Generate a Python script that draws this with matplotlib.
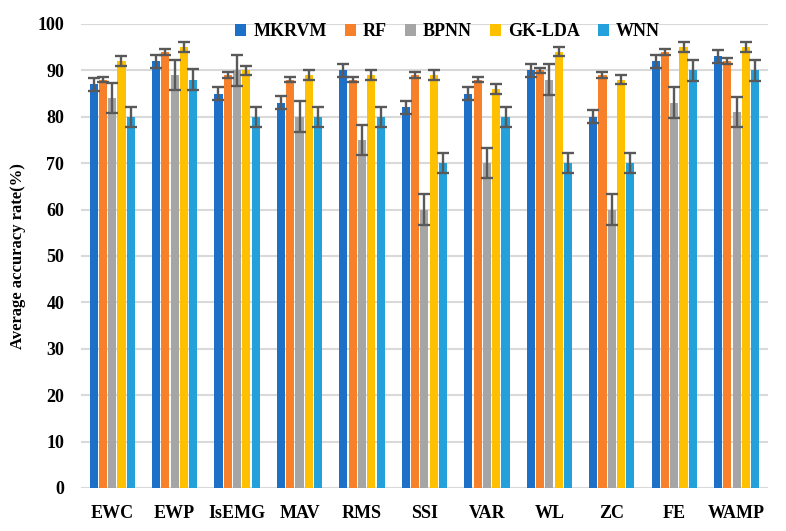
import matplotlib.pyplot as plt
import numpy as np

features = ["EWC", "EWP", "IsEMG", "MAV", "RMS", "SSI", "VAR", "WL", "ZC", "FE", "WAMP"]
methods = ["MKRVM", "RF", "BPNN", "GK-LDA", "WNN"]

mkrvm = [87, 92, 85, 83, 90, 82, 85, 90, 80, 92, 93]
rf = [88, 94, 89, 88, 88, 89, 88, 90, 89, 94, 92]
bpnn = [84, 89, 90, 80, 75, 60, 70, 88, 60, 83, 81]
gklda = [92, 95, 90, 89, 89, 89, 86, 94, 88, 95, 95]
wnn = [80, 88, 80, 80, 80, 70, 80, 70, 70, 90, 90]

# error bar half-widths (one per series, as in the original)
errs = [1.4, 0.6, 3.3, 1.0, 2.2]
colors = ["#1c70c8", "#f7802a", "#a5a5a5", "#ffc000", "#24a0da"]

plt.rcParams['font.family'] = ['Liberation Serif', 'DejaVu Serif']
plt.rcParams['font.weight'] = 'bold'

fig = plt.figure(figsize=(7.86, 5.31), dpi=100)
ax = fig.add_axes([0.103, 0.081, 0.874, 0.874])

x = np.arange(len(features))
pitch = 0.149
width = 0.13
for i, (vals, name) in enumerate(zip([mkrvm, rf, bpnn, gklda, wnn], methods)):
    off = (i - 2) * pitch
    ax.bar(x + off, vals, width, color=colors[i], label=name, zorder=2,
           yerr=errs[i], error_kw=dict(ecolor="#595959", elinewidth=1.7,
                                       capsize=4.5, capthick=1.7, zorder=3))

ax.set_xlim(-0.5, len(features) - 0.5)
ax.set_ylim(0, 100)
ax.set_yticks(range(0, 101, 10))
ax.set_xticks(x)
ax.set_xticklabels(features, fontsize=13, fontweight='bold')
ax.tick_params(axis='y', labelsize=13, length=0, pad=12)
ax.tick_params(axis='x', length=0, pad=12)
ax.grid(axis='y', color='#d9d9d9', linewidth=1.5, zorder=0)
for s in ax.spines.values():
    s.set_visible(False)
ax.set_ylabel("Average accuracy rate(%)", fontsize=12, fontweight='bold', labelpad=8)

ax.legend(loc='center', bbox_to_anchor=(0.534, 0.983), ncol=5, frameon=False,
          prop={'size': 13, 'weight': 'bold'}, handlelength=0.6, handleheight=0.6,
          handletextpad=0.4, columnspacing=1.0)

fig.savefig("out.png", dpi=100)
